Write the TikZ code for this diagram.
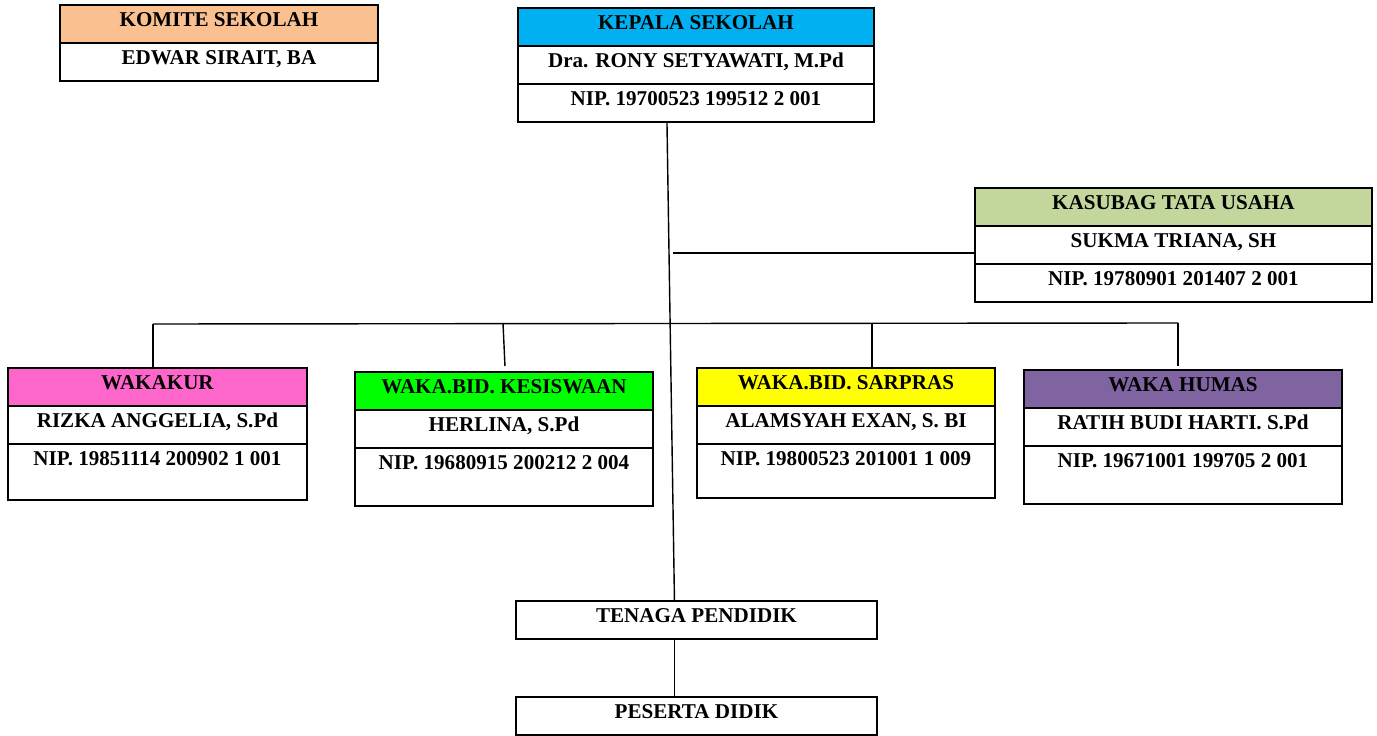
\documentclass[tikz,border=0pt]{standalone}
\usepackage{fontspec}
\setmainfont{Liberation Serif}
\usepackage{xcolor}
\usepackage{tikz}
\usetikzlibrary{calc}
\usetikzlibrary{positioning}

\definecolor{komiteC}{HTML}{FAC090}
\definecolor{kepalaC}{HTML}{00B0F0}
\definecolor{tuC}{HTML}{C3D69B}
\definecolor{kurC}{HTML}{FF66CC}
\definecolor{siswaC}{HTML}{00FF00}
\definecolor{sarprasC}{HTML}{FFFF00}
\definecolor{humasC}{HTML}{8064A2}

\tikzset{
  kotak/.style={draw, line width=1.15pt, inner sep=0pt, outer sep=0pt, text height=0.44cm, text depth=0.32cm, font=\fontsize{12}{14}\selectfont\bfseries},
  kotaknip/.style={kotak, text depth=0.68cm},
  garis/.style={line width=0.8pt}
}

\begin{document}
\begin{tikzpicture}[x=0.02cm,y=-0.02cm]

\useasboundingbox[fill=white] (0,0) rectangle (1377,736);

\node[kotak,fill=komiteC,minimum width=6.36cm,anchor=north west] (komite) at (60,5) {KOMITE SEKOLAH};	% komite
\node[kotak,minimum width=6.36cm,below=0pt of komite] (komiteNama) {EDWAR SIRAIT, BA};

\node[kotak,fill=kepalaC,minimum width=7.12cm,anchor=north west] (kepala) at (518,8) {KEPALA SEKOLAH};	% kepala sekolah
\node[kotak,minimum width=7.12cm,below=0pt of kepala] (kepalaNama) {Dra. RONY SETYAWATI, M.Pd};
\node[kotak,minimum width=7.12cm,below=0pt of kepalaNama] (kepalaNIP) {NIP. 19700523 199512 2 001};

\node[kotak,fill=tuC,minimum width=7.94cm,anchor=north west] (tu) at (975,188) {KASUBAG TATA USAHA};	% tata usaha
\node[kotak,minimum width=7.94cm,below=0pt of tu] (tuNama) {SUKMA TRIANA, SH};
\node[kotak,minimum width=7.94cm,below=0pt of tuNama] (tuNIP) {NIP. 19780901 201407 2 001};

\node[kotak,fill=kurC,minimum width=5.98cm,anchor=north west] (kur) at (8,368) {WAKAKUR};	% waka kurikulum
\node[kotak,minimum width=5.98cm,below=0pt of kur] (kurNama) {RIZKA ANGGELIA, S.Pd};
\node[kotaknip,minimum width=5.98cm,below=0pt of kurNama] (kurNIP) {NIP. 19851114 200902 1 001};

\node[kotak,fill=siswaC,minimum width=5.96cm,anchor=north west] (siswa) at (355,372) {WAKA.BID. KESISWAAN};	% waka kesiswaan
\node[kotak,minimum width=5.96cm,below=0pt of siswa] (siswaNama) {HERLINA, S.Pd};
\node[kotaknip,minimum width=5.96cm,below=0pt of siswaNama,text depth=0.72cm] (siswaNIP) {NIP. 19680915 200212 2 004};

\node[kotak,fill=sarprasC,minimum width=5.96cm,anchor=north west] (sarpras) at (697,368) {WAKA.BID. SARPRAS};	% waka sarpras
\node[kotak,minimum width=5.96cm,below=0pt of sarpras] (sarprasNama) {ALAMSYAH EXAN, S. BI};
\node[kotaknip,minimum width=5.96cm,below=0pt of sarprasNama,text depth=0.64cm] (sarprasNIP) {NIP. 19800523 201001 1 009};

\node[kotak,fill=humasC,minimum width=6.36cm,anchor=north west] (humas) at (1024,370) {WAKA HUMAS};	% waka humas
\node[kotak,minimum width=6.36cm,below=0pt of humas] (humasNama) {RATIH BUDI HARTI. S.Pd};
\node[kotaknip,minimum width=6.36cm,below=0pt of humasNama,text depth=0.72cm] (humasNIP) {NIP. 19671001 199705 2 001};

\node[kotak,minimum width=7.22cm,anchor=north west] (guru) at (516,601) {TENAGA PENDIDIK};	% tenaga pendidik
\node[kotak,minimum width=7.22cm,anchor=north west] (murid) at (516,697) {PESERTA DIDIK};	% peserta didik

\draw[garis] ($(kepalaNIP.south)+(-29,0)$) -- ($(guru.north)+(-22,0)$);	% garis komando utama
\draw[garis] ($(guru.south)+(-22,0)$) -- ($(murid.north)+(-22,0)$);	% guru ke murid

\coordinate (cabangTU) at (673,253);
\draw[garis] (cabangTU) -- (cabangTU -| tu.west);	% ke tata usaha

\coordinate (busKiri) at (153,324);
\coordinate (busKanan) at (1178,323);
\draw[garis] (busKiri) -- (busKanan);	% garis para waka

\draw[garis] (busKiri) -- (busKiri |- kur.north);
\draw[garis] (503,323) coordinate (turunSiswa) -- ($(siswa.north)+(1,-6)$);
\draw[garis] (872,323) coordinate (turunSarpras) -- (turunSarpras |- sarpras.north);
\draw[garis] (busKanan) -- ($(busKanan |- humas.north)+(0,-4)$);

\end{tikzpicture}
\end{document}
